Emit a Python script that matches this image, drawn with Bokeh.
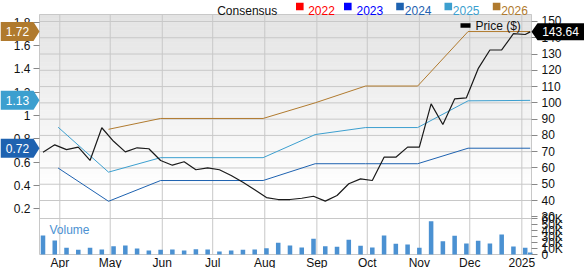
import pandas as pd
from bokeh.plotting import figure
from bokeh.models import (Range1d, LinearAxis, DatetimeAxis, FixedTicker, CustomJSTickFormatter,
                          Label, BoxAnnotation, PolyAnnotation)
from bokeh.embed import file_html
from bokeh.resources import INLINE

# ---------------- data ----------------
price_dates = ["2024-03-22", "2024-03-29", "2024-04-05", "2024-04-12", "2024-04-19", "2024-04-26",
               "2024-05-03", "2024-05-10", "2024-05-17", "2024-05-24", "2024-05-31",
               "2024-06-07", "2024-06-14", "2024-06-21", "2024-06-28",
               "2024-07-05", "2024-07-12", "2024-07-19", "2024-07-26",
               "2024-08-02", "2024-08-09", "2024-08-16", "2024-08-23", "2024-08-30",
               "2024-09-06", "2024-09-13", "2024-09-20", "2024-09-27",
               "2024-10-04", "2024-10-11", "2024-10-18", "2024-10-25",
               "2024-11-01", "2024-11-08", "2024-11-15", "2024-11-22", "2024-11-29",
               "2024-12-06", "2024-12-13", "2024-12-20", "2024-12-27",
               "2025-01-03", "2025-01-06"]
price = [69.7, 74.2, 71.3, 72.8, 64.6, 84.7,
         76.4, 69.9, 72.4, 71.8, 64.6,
         61.7, 63.8, 58.9, 60.1,
         58.9, 55.4, 51.2, 46.6,
         41.8, 40.6, 40.6, 41.4, 42.6,
         39.6, 43.1, 50.3, 53.3,
         52.3, 66.6, 66.6, 72.8,
         72.8, 99.4, 86.7, 102.4, 103.1,
         121.0, 132.5, 132.5, 142.5,
         142.0, 143.64]
volume = [31700, 23300, 11200, 7800, 11200, 8300,
          13800, 15000, 10000, 6700, 7800,
          8300, 6700, 8800, 8300,
          5000, 6700, 7800, 8300,
          10500, 19500, 15000, 11700, 26200,
          13800, 12800, 24500, 14500,
          11700, 31700, 17800, 16700,
          11200, 55500, 22200, 31200, 18300,
          22800, 18300, 33300, 13300,
          11200, 3300]

cons_dates = ["2024-03-31", "2024-04-30", "2024-05-31", "2024-06-30", "2024-07-31",
              "2024-08-31", "2024-09-30", "2024-10-31", "2024-11-30", "2025-01-06"]
eps_2024 = [0.55, 0.265, 0.443, 0.443, 0.443, 0.587, 0.587, 0.587, 0.72, 0.72]
eps_2025 = [0.90, 0.515, 0.639, 0.639, 0.639, 0.837, 0.897, 0.897, 1.126, 1.13]
eps_2026 = [None, 0.882, 0.975, 0.975, 0.975, 1.109, 1.253, 1.253, 1.72, 1.72]

month_ticks = ["2024-04-01", "2024-05-01", "2024-06-01", "2024-07-01", "2024-08-01",
               "2024-09-01", "2024-10-01", "2024-11-01", "2024-12-01", "2025-01-01"]
month_labels = ["Apr", "May", "Jun", "Jul", "Aug", "Sep", "Oct", "Nov", "Dec", "2025"]
price_ticks = [30, 40, 50, 60, 70, 80, 90, 100, 110, 120, 130, 140, 150]
eps_ticks = [0.2, 0.4, 0.6, 0.8, 1.0, 1.2, 1.4, 1.6, 1.8]
vol_ticks = [0, 10000, 20000, 30000, 40000, 50000, 60000]
legend_years = ["2022", "2023", "2024", "2025", "2026"]

# ---------------- styles ----------------
C22, C23, C24, C25, C26 = "#ff0000", "#0000ff", "#1e62b0", "#3c9fcf", "#b07a2e"
legend_colors = [C22, C23, C24, C25, C26]
VOL_C = "#4b91d2"
GRID_C = "#c8c8c8"
TICK_C = "#888888"
TXT_C = "#111111"
FONT = "Liberation Sans"
FS = "12px"

# canvas layout (pixels): the figure frame is the whole canvas; the chart panel sits inside it
W, H = 584, 268
PL, PT, PR, PB = 39, 14, 531, 254      # panel edges
VOL_TOP = 218                           # top of the volume strip


def ms(d):
    return pd.Timestamp(d).value // 10**6


# data values at panel edges
X_L, X_R = ms("2024-03-19 22:00"), ms("2025-01-06 18:00")
P_B, P_T = 6.82, 154.30          # price at panel bottom / top
E_B, E_T = -0.191, 1.866         # consensus EPS at panel bottom / top
V_TOP = 60000                    # volume at top of the volume strip

mpx = (X_R - X_L) / (PR - PL)
ppx = (P_T - P_B) / (PB - PT)
epx = (E_T - E_B) / (PB - PT)
vpx = V_TOP / (PB - VOL_TOP)

x_range = Range1d(X_L - PL * mpx, X_R + (W - PR) * mpx)
p_range = Range1d(P_B - (H - PB) * ppx, P_T + PT * ppx)
e_range = Range1d(E_B - (H - PB) * epx, E_T + PT * epx)
v_range = Range1d(-(H - PB) * vpx, PB * vpx)
P_SEP = P_B + (PB - VOL_TOP) * ppx   # price value at volume-strip top

price_x = [ms(d) for d in price_dates]
cons_x = [ms(d) for d in cons_dates]
month_x = [ms(d) for d in month_ticks]


def p_at(Y):
    return P_T - (Y - PT) * ppx


def row_of_eps(v):
    return PT + (E_T - v) / epx


def row_of_price(v):
    return PT + (P_T - v) / ppx


p = figure(width=W, height=H, output_backend="svg", toolbar_location=None,
           x_range=x_range, y_range=p_range, x_axis_location=None, y_axis_location=None,
           min_border=0, min_border_left=0, min_border_right=0,
           min_border_top=0, min_border_bottom=0)
p.extra_y_ranges = {"eps": e_range, "vol": v_range}
p.background_fill_color = "white"
p.border_fill_color = "white"
p.outline_line_color = None
p.grid.visible = False

# gradient background of the main panel
N = 44
g_top, g_bot = PT, 190
g_tops, g_bots, g_cols = [], [], []
for i in range(N):
    y_a = g_top + (g_bot - g_top) * i / N
    y_b = g_top + (g_bot - g_top) * (i + 1) / N
    lev = int(round(0xE3 + (0xFF - 0xE3) * (i + 0.5) / N))
    g_tops.append(p_at(y_a))
    g_bots.append(p_at(y_b))
    g_cols.append("#%02x%02x%02x" % (lev, lev, lev))
p.quad(left=X_L, right=X_R, top=g_tops, bottom=g_bots, fill_color=g_cols,
       line_color=g_cols, line_width=0.6)

# grid lines (restricted to the panel)
p.segment(x0=month_x, y0=P_B, x1=month_x, y1=P_T, line_color=GRID_C, line_width=1)
hg = [t for t in price_ticks if t >= 40]
p.segment(x0=X_L, y0=hg, x1=X_R, y1=hg, line_color=GRID_C, line_width=1)
p.segment(x0=[X_L], y0=[P_SEP], x1=[X_R], y1=[P_SEP], line_color=GRID_C, line_width=1)
# panel outline
p.quad(left=[X_L], right=[X_R], top=[P_T], bottom=[P_B], fill_color=None,
       line_color=GRID_C, line_width=1)

# volume bars
p.vbar(x=price_x, top=volume, width=2.7 * 86400000, y_range_name="vol",
       fill_color=VOL_C, line_color=None)

# consensus lines
p.line(cons_x, eps_2024, y_range_name="eps", line_color=C24, line_width=1)
p.line(cons_x, eps_2025, y_range_name="eps", line_color=C25, line_width=1)
p.line(cons_x[1:], eps_2026[1:], y_range_name="eps", line_color=C26, line_width=1)

# price line
p.line(price_x, price, line_color="#1a1a1a", line_width=1.2)


def style_axis(a, tick_out, standoff):
    a.axis_line_color = None
    a.major_tick_line_color = TICK_C if tick_out else None
    a.minor_tick_line_color = None
    a.major_tick_out = tick_out
    a.major_tick_in = 0
    a.major_label_standoff = standoff
    a.major_label_text_font = FONT
    a.major_label_text_font_size = FS
    a.major_label_text_color = TXT_C


# x axis (months) fixed at the panel bottom
xa = DatetimeAxis(ticker=FixedTicker(ticks=month_x), fixed_location=P_B)
xa.major_label_overrides = {m: l for m, l in zip(month_x, month_labels)}
style_axis(xa, 0, 1)
p.add_layout(xa, "below")

# right axis: price and volume ticks
vol_pos = [P_B + v / vpx * ppx for v in vol_ticks]
ra = LinearAxis(ticker=FixedTicker(ticks=price_ticks + vol_pos), fixed_location=X_R,
                formatter=CustomJSTickFormatter(args=dict(PB=P_B, ppx=ppx, vpx=vpx, SEP=P_SEP), code="""
if (tick > SEP + 0.5) { return tick.toFixed(0); }
const v = (tick - PB) / ppx * vpx;
const k = Math.round(v / 1000);
return k == 0 ? "0" : k + "K";
"""))
style_axis(ra, 6, 4)
p.add_layout(ra, "right")

# left axis: consensus EPS
la = LinearAxis(y_range_name="eps", ticker=FixedTicker(ticks=eps_ticks), fixed_location=X_L,
                formatter=CustomJSTickFormatter(code="return String(Math.round(tick*10)/10);"))
style_axis(la, 6, 3)
p.add_layout(la, "left")


# ---------------- legend / labels (screen units, y measured up from canvas bottom) ----------------
def text(X, Y, s, color, align="left", baseline="middle"):
    p.add_layout(Label(x=X, y=H - Y, x_units="screen", y_units="screen", text=s,
                       text_font=FONT, text_font_size=FS, text_color=color,
                       text_align=align, text_baseline=baseline))


def box(Xl, Xr, Yt, Yb, color):
    p.add_layout(BoxAnnotation(left=Xl, right=Xr, top=H - Yt, bottom=H - Yb,
                               left_units="screen", right_units="screen",
                               top_units="screen", bottom_units="screen",
                               fill_color=color, fill_alpha=1, line_color=None))


def poly(Xs, Ys, color):
    p.add_layout(PolyAnnotation(xs=list(Xs), ys=[H - v for v in Ys],
                                xs_units="screen", ys_units="screen",
                                fill_color=color, fill_alpha=1, line_color=None))


text(216.7, 10, "Consensus", TXT_C, baseline="alphabetic")
sq_left = [295.5, 343.5, 395.7, 444.0, 492.3]
txt_left = [307.7, 356.0, 404.3, 452.3, 500.7]
for yr, col, sl, tl in zip(legend_years, legend_colors, sq_left, txt_left):
    box(sl, sl + 7.6, 2.2, 9.8, col)
    text(tl, 10, yr, col, baseline="alphabetic")

# Price legend inside plot
box(460, 470, 22.8, 27.2, "black")
text(475, 25.5, "Price ($)", TXT_C)

# Volume label
text(49, 229, "Volume", VOL_C)

# left badges (last consensus values)
for vals, col in [(eps_2026, C26), (eps_2025, C25), (eps_2024, C24)]:
    v = vals[-1]
    yc = row_of_eps(v)
    poly([0, 33, 39, 33, 0], [yc - 9.5, yc - 9.5, yc, yc + 9.5, yc + 9.5], col)
    text(17, yc, "%.2f" % v, "white", align="center")

# right price badge (last close)
pc = price[-1]
yc = row_of_price(pc)
poly([531, 537, 584, 584, 537], [yc, yc - 8.5, yc - 8.5, yc + 8.5, yc + 8.5], "black")
text(560, yc, "%.2f" % pc, "white", align="center")

open("out.html", "w").write(file_html(p, INLINE))
